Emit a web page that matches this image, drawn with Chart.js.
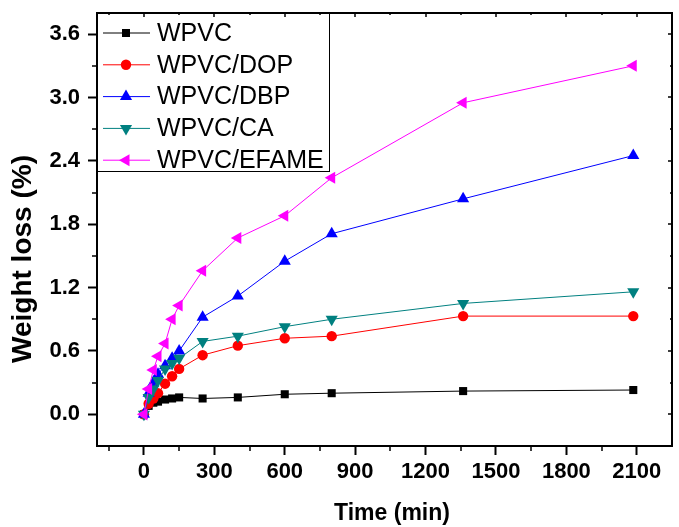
<!DOCTYPE html>
<html>
<head>
<meta charset="utf-8">
<title>Weight loss</title>
<script src="https://cdn.jsdelivr.net/npm/chart.js@4.4.1/dist/chart.umd.min.js"></script>
<style>
  body { margin: 0; background: #fff; }
  canvas { display: block; }
</style>
</head>
<body>
<canvas id="my-chart" width="679" height="527"></canvas>
<script>
'use strict';

// Data
let times = [0, 20, 40, 60, 90, 120, 150, 250, 400, 600, 800, 1360, 2085];

let wpvc = [0, 0.08, 0.11, 0.12, 0.14, 0.15, 0.16, 0.15, 0.16, 0.19, 0.20, 0.22, 0.23];
let wpvcDop = [0, 0.10, 0.15, 0.20, 0.29, 0.36, 0.43, 0.56, 0.65, 0.72, 0.74, 0.93, 0.93];
let wpvcDbp = [0, 0.20, 0.30, 0.38, 0.46, 0.53, 0.60, 0.92, 1.12, 1.45, 1.71, 2.04, 2.45];
let wpvcCa = [0, 0.16, 0.24, 0.32, 0.43, 0.48, 0.53, 0.69, 0.74, 0.83, 0.90, 1.05, 1.16];
let wpvcEfame = [0, 0.24, 0.42, 0.55, 0.67, 0.90, 1.03, 1.36, 1.67, 1.88, 2.24, 2.95, 3.30];

let seriesNames = ['WPVC', 'WPVC/DOP', 'WPVC/DBP', 'WPVC/CA', 'WPVC/EFAME'];

// tick labels
let xTicks = [0, 300, 600, 900, 1200, 1500, 1800, 2100];
let xMinorTicks = [-150, 150, 450, 750, 1050, 1350, 1650, 1950];
let yTicks = [0.0, 0.6, 1.2, 1.8, 2.4, 3.0, 3.6];
let yMinorTicks = [0.3, 0.9, 1.5, 2.1, 2.7, 3.3];

let fontFamily = 'Arial, "Liberation Sans", sans-serif';

// marker styles for each series
let styles = [
  { color: '#000000', point: 'rect', radius: 5.7, rotation: 0 },
  { color: '#ff0000', point: 'circle', radius: 5.2, rotation: 0 },
  { color: '#0000ff', point: 'triangle', radius: 7, rotation: 0 },
  { color: '#008080', point: 'triangle', radius: 7, rotation: 180 },
  { color: '#ff00ff', point: 'triangle', radius: 7, rotation: -90 }
];

let allValues = [wpvc, wpvcDop, wpvcDbp, wpvcCa, wpvcEfame];

function toPoints(values) {
  let pts = [];
  for (let i = 0; i < times.length; i++) {
    pts.push({ x: times[i], y: values[i] });
  }
  return pts;
}

let datasets = [];
for (let i = 0; i < allValues.length; i++) {
  datasets.push({
    label: seriesNames[i],
    data: toPoints(allValues[i]),
    borderColor: styles[i].color,
    backgroundColor: styles[i].color,
    borderWidth: 1,
    pointStyle: styles[i].point,
    pointRadius: styles[i].radius,
    pointRotation: styles[i].rotation,
    pointBorderWidth: 0,
    pointHoverRadius: styles[i].radius,
    showLine: true,
    order: allValues.length - i
  });
}

// minor ticks, frame and axis titles
let framePlugin = {
  id: 'frame',
  afterDraw(chart) {
    let c = chart.ctx;
    let area = chart.chartArea;
    let xs = chart.scales.x;
    let ys = chart.scales.y;
    c.save();
    c.strokeStyle = '#000';
    c.lineWidth = 2;
    c.beginPath();
    c.moveTo(area.left, area.top);
    c.lineTo(area.right, area.top);
    c.lineTo(area.right, area.bottom);
    c.stroke();

    c.lineWidth = 1.5;
    c.beginPath();
    for (let i = 0; i < xMinorTicks.length; i++) {
      let px = Math.round(xs.getPixelForValue(xMinorTicks[i]));
      c.moveTo(px, area.bottom);
      c.lineTo(px, area.bottom + 5);
      c.moveTo(px, area.top);
      c.lineTo(px, area.top + 2);
    }
    for (let i = 0; i < xTicks.length; i++) {
      let px = Math.round(xs.getPixelForValue(xTicks[i]));
      c.moveTo(px, area.top);
      c.lineTo(px, area.top + 4);
    }
    for (let i = 0; i < yMinorTicks.length; i++) {
      let py = Math.round(ys.getPixelForValue(yMinorTicks[i]));
      c.moveTo(area.left, py);
      c.lineTo(area.left - 5, py);
      c.moveTo(area.right, py);
      c.lineTo(area.right - 2, py);
    }
    for (let i = 0; i < yTicks.length; i++) {
      let py = Math.round(ys.getPixelForValue(yTicks[i]));
      c.moveTo(area.right, py);
      c.lineTo(area.right - 4, py);
    }
    c.stroke();

    // axis titles
    c.fillStyle = '#000';
    c.textAlign = 'center';
    c.textBaseline = 'middle';
    c.font = 'bold 23px ' + fontFamily;
    c.fillText('Time (min)', 392, 514);
    c.translate(23, 259);
    c.rotate(-Math.PI / 2);
    c.font = 'bold 28px ' + fontFamily;
    c.fillText('Weight loss (%)', 0, 0);
    c.restore();
  }
};

// boxed legend in the top left of the plot
let legendPlugin = {
  id: 'boxLegend',
  afterDatasetsDraw(chart) {
    let c = chart.ctx;
    let area = chart.chartArea;
    let boxRight = 329;
    let boxBottom = 171;
    c.save();
    c.fillStyle = '#fff';
    c.fillRect(area.left, area.top, boxRight - area.left, boxBottom - area.top);
    c.strokeStyle = '#000';
    c.lineWidth = 1;
    c.strokeRect(area.left + 0.5, area.top + 0.5, boxRight - area.left, boxBottom - area.top);

    c.font = '25px ' + fontFamily;
    c.textAlign = 'left';
    c.textBaseline = 'middle';
    for (let i = 0; i < seriesNames.length; i++) {
      let y = 33 + i * 31.8;
      c.strokeStyle = styles[i].color;
      c.lineWidth = 1;
      c.beginPath();
      c.moveTo(103, y);
      c.lineTo(150, y);
      c.stroke();
      c.fillStyle = styles[i].color;
      Chart.helpers.drawPoint(c, {
        pointStyle: styles[i].point,
        radius: styles[i].radius,
        rotation: styles[i].rotation,
        borderWidth: 0
      }, 126, y);
      c.fillStyle = '#000';
      c.fillText(seriesNames[i], 157, y + 1);
    }
    c.restore();
  }
};

let ctx = document.getElementById('my-chart');

let chartObject = {
  type: 'scatter',
  data: { datasets: datasets },
  options: {
    responsive: false,
    animation: false,
    layout: { padding: { top: 13, right: 2, left: 0, bottom: 0 } },
    plugins: {
      legend: { display: false },
      tooltip: { enabled: false }
    },
    scales: {
      x: {
        type: 'linear',
        min: -200,
        max: 2250,
        afterBuildTicks(scale) {
          scale.ticks = xTicks.map(v => ({ value: v }));
        },
        afterFit(scale) {
          scale.height = 81;
          scale.paddingLeft = 0;
          scale.paddingRight = 0;
        },
        ticks: {
          autoSkip: false,
          maxRotation: 0,
          padding: 4,
          color: '#000',
          font: { family: fontFamily, size: 22, weight: 'bold' },
          callback: v => String(v)
        },
        grid: {
          drawOnChartArea: false,
          drawTicks: true,
          tickLength: 9,
          tickWidth: 2,
          tickColor: '#000'
        },
        border: { color: '#000', width: 2 }
      },
      y: {
        type: 'linear',
        min: -0.3,
        max: 3.8,
        afterBuildTicks(scale) {
          scale.ticks = yTicks.map(v => ({ value: v }));
        },
        afterFit(scale) {
          scale.width = 97;
          scale.paddingTop = 0;
          scale.paddingBottom = 0;
        },
        ticks: {
          autoSkip: false,
          padding: 8,
          color: '#000',
          font: { family: fontFamily, size: 22, weight: 'bold' },
          callback: v => v.toFixed(1)
        },
        grid: {
          drawOnChartArea: false,
          drawTicks: true,
          tickLength: 9,
          tickWidth: 2,
          tickColor: '#000'
        },
        border: { color: '#000', width: 2 }
      }
    }
  },
  plugins: [legendPlugin, framePlugin]
};

const weightChart = new Chart(ctx, chartObject);
</script>
</body>
</html>
